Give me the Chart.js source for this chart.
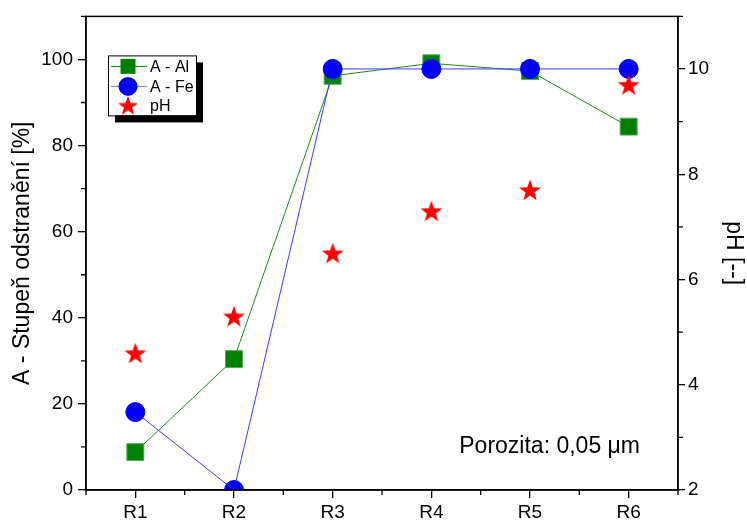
<!DOCTYPE html>
<html><head><meta charset="utf-8">
<script src="https://cdn.jsdelivr.net/npm/chart.js@4/dist/chart.umd.min.js"></script>
<style>html,body{margin:0;padding:0;background:#fff}#wrap{width:747px;height:523px}</style>
</head><body><div id="wrap"><canvas id="c" width="747" height="523"></canvas></div>
<script>
const categories = ['R1','R2','R3','R4','R5','R6'];
const alValues = [8.8, 30.4, 96.2, 99.1, 97.3, 84.4];
const feValues = [18.1, 0, 97.8, 97.8, 97.8, 97.8];
const phValues = [4.6, 5.3, 6.5, 7.3, 7.7, 9.7];
const leftTicks = [0, 20, 40, 60, 80, 100];
const leftMinor = [10, 30, 50, 70, 90, 110];
const rightTicks = [2, 4, 6, 8, 10];
const rightMinor = [3, 5, 7, 9, 11];
const legendLabels = ['A - Al', 'A - Fe', 'pH'];
const noteText = 'Porozita: 0,05 \u03bcm';

const FONT = "'Liberation Sans', Arial, sans-serif";
const GREEN = '#008000', BLUE = '#0000ff', RED = '#ff0000';

function makeStar(size, color) {
  const c = document.createElement('canvas');
  c.width = size; c.height = size;
  const g = c.getContext('2d');
  const cx = size / 2, cy = size / 2 + size * 0.04, R = size / 2 - 0.5, r = R * 0.40;
  g.beginPath();
  for (let i = 0; i < 10; i++) {
    const ang = -Math.PI / 2 + i * Math.PI / 5;
    const rr = i % 2 === 0 ? R : r;
    const px = cx + rr * Math.cos(ang), py = cy + rr * Math.sin(ang);
    if (i === 0) g.moveTo(px, py); else g.lineTo(px, py);
  }
  g.closePath();
  g.fillStyle = color; g.fill();
  return c;
}
const starImg = makeStar(24, RED);
const starLegend = makeStar(22, RED);

const extras = {
  id: 'extras',
  afterDraw(chart) {
    const {ctx, chartArea: a, scales: {x, y, y2}} = chart;
    ctx.save();
    ctx.strokeStyle = '#000';
    ctx.lineWidth = 1.5;
    ctx.strokeRect(a.left, a.top, a.right - a.left, a.bottom - a.top);
    // minor ticks
    ctx.lineWidth = 1.3;
    ctx.beginPath();
    leftMinor.forEach(v => { const py = y.getPixelForValue(v); ctx.moveTo(a.left, py); ctx.lineTo(a.left - 5, py); });
    rightMinor.forEach(v => { const py = y2.getPixelForValue(v); ctx.moveTo(a.right, py); ctx.lineTo(a.right + 5, py); });
    for (let i = 0; i <= categories.length; i++) {
      const px = x.getPixelForValue(i - 0.5);
      ctx.moveTo(px, a.bottom); ctx.lineTo(px, a.bottom + 5);
    }
    ctx.stroke();

    // legend
    const lx = a.left + 22, ly = a.top + 39, lw = 88, lh = 60;
    ctx.fillStyle = '#000';
    ctx.fillRect(lx + 7, ly + 7, lw, lh);
    ctx.fillStyle = '#fff';
    ctx.fillRect(lx, ly, lw, lh);
    ctx.lineWidth = 1;
    ctx.strokeStyle = '#000';
    ctx.strokeRect(lx + 0.5, ly + 0.5, lw, lh);
    const rows = [ly + 11, ly + 31, ly + 50];
    const mx = lx + 20;
    // line segments
    ctx.lineWidth = 1;
    ctx.strokeStyle = GREEN;
    ctx.beginPath(); ctx.moveTo(lx + 3, rows[0]); ctx.lineTo(lx + 39, rows[0]); ctx.stroke();
    ctx.strokeStyle = '#6f6fff';
    ctx.beginPath(); ctx.moveTo(lx + 3, rows[1]); ctx.lineTo(lx + 39, rows[1]); ctx.stroke();
    ctx.fillStyle = GREEN;
    ctx.fillRect(mx - 7.5, rows[0] - 7.5, 15, 15);
    ctx.fillStyle = BLUE;
    ctx.beginPath(); ctx.arc(mx, rows[1], 9.5, 0, Math.PI * 2); ctx.fill();
    ctx.drawImage(starLegend, mx - 11, rows[2] - 11);
    ctx.fillStyle = '#000';
    ctx.font = '16px ' + FONT;
    ctx.textBaseline = 'middle';
    ctx.textAlign = 'left';
    legendLabels.forEach((t, i) => ctx.fillText(t, lx + 42, rows[i] + 1));

    // annotation
    ctx.font = '23px ' + FONT;
    ctx.textAlign = 'right';
    ctx.textBaseline = 'alphabetic';
    ctx.fillText(noteText, a.right - 38, a.bottom - 37);
    ctx.restore();
  }
};

const gridOpts = {display: true, drawOnChartArea: false, drawTicks: true, tickLength: 8, color: '#000', lineWidth: 1.3};
const borderOpts = {display: true, color: '#000', width: 1.5};

new Chart(document.getElementById('c'), {
  type: 'line',
  data: {
    labels: categories,
    datasets: [
      {label: legendLabels[2], data: phValues, yAxisID: 'y2', showLine: false, order: 1,
       pointStyle: starImg, pointRadius: 11, backgroundColor: RED, borderColor: RED, clip: 0},
      {label: legendLabels[1], data: feValues, yAxisID: 'y', order: 2,
       borderColor: '#3c3cff', borderWidth: 1, pointStyle: 'circle', pointRadius: 9.5,
       pointBackgroundColor: BLUE, pointBorderColor: BLUE, pointBorderWidth: 1, clip: 0, tension: 0},
      {label: legendLabels[0], data: alValues, yAxisID: 'y', order: 3,
       borderColor: '#1a8c1a', borderWidth: 1, pointStyle: 'rect', pointRadius: 12,
       pointBackgroundColor: GREEN, pointBorderColor: '#5aa85a', pointBorderWidth: 1, clip: 0, tension: 0}
    ]
  },
  options: {
    responsive: false, animation: false, devicePixelRatio: 1,
    layout: {padding: {top: 14, left: 0, right: 0, bottom: 0}},
    plugins: {legend: {display: false}, tooltip: {enabled: false}},
    scales: {
      x: {
        type: 'category', offset: true,
        grid: Object.assign({}, gridOpts, {offset: false}), border: borderOpts,
        ticks: {color: '#000', font: {family: FONT, size: 19}, padding: 3},
        afterFit: s => { s.height = 33; }
      },
      y: {
        position: 'left', min: 0, max: 110,
        grid: gridOpts, border: borderOpts,
        ticks: {color: '#000', font: {family: FONT, size: 19}, padding: 5},
        afterBuildTicks: s => { s.ticks = leftTicks.map(v => ({value: v})); },
        title: {display: true, text: 'A - Stupeň odstranění [%]', color: '#000', font: {family: FONT, size: 23}, padding: {top: 9, bottom: 0}},
        afterFit: s => { s.width = 86; }
      },
      y2: {
        position: 'right', min: 2, max: 11,
        grid: Object.assign({}, gridOpts, {tickLength: 7}), border: borderOpts,
        ticks: {color: '#000', font: {family: FONT, size: 19}, padding: 3},
        afterBuildTicks: s => { s.ticks = rightTicks.map(v => ({value: v})); },
        title: {display: true, text: 'pH [--]', color: '#000', font: {family: FONT, size: 23}, padding: {top: 0, bottom: 0}},
        afterFit: s => { s.width = 69; }
      }
    }
  },
  plugins: [extras]
});
</script>
</body></html>
